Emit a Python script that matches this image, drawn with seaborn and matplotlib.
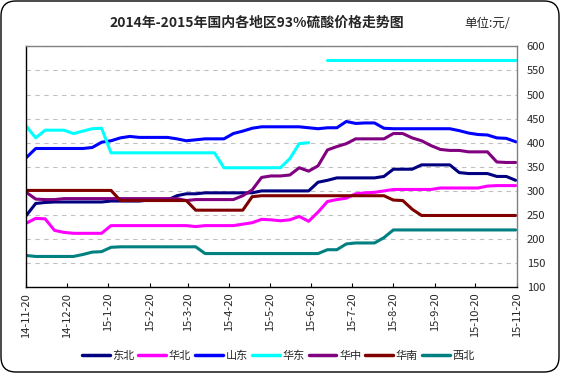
"""
2014-2015 domestic 93% sulfuric acid price trend by region.
"""

import matplotlib.pyplot as plt
import numpy as np
import pandas as pd
import seaborn as sns
from matplotlib.patches import FancyBboxPatch


TITLE = "2014年-2015年国内各地区93%硫酸价格走势图"
UNIT_TEXT = "单位:元/"

WEEK_DATES = pd.date_range("2014-11-20", periods=53, freq="7D")

TICK_DATES = pd.to_datetime([
    "2014-11-20", "2014-12-20", "2015-01-20", "2015-02-20", "2015-03-20",
    "2015-04-20", "2015-05-20", "2015-06-20", "2015-07-20", "2015-08-20",
    "2015-09-20", "2015-10-20", "2015-11-20",
])
TICK_LABELS = [
    "14-11-20", "14-12-20", "15-1-20", "15-2-20", "15-3-20", "15-4-20",
    "15-5-20", "15-6-20", "15-7-20", "15-8-20", "15-9-20", "15-10-20",
    "15-11-20",
]
Y_TICKS = [100, 150, 200, 250, 300, 350, 400, 450, 500, 550, 600]

REGIONS = ["东北", "华北", "山东", "华东", "华中", "华南", "西北"]
COLORS = ["#000080", "#FF00FF", "#0000FF", "#00FFFF",
          "#800080", "#800000", "#008080"]

NORTHEAST = [
    249, 274, 276, 277, 277, 277, 277, 277, 277, 279,
    279, 279, 279, 281, 281, 281, 290, 294, 294, 296,
    296, 296, 296, 296, 296, 300, 300, 300, 300, 300,
    300, 318, 322, 327, 327, 327, 327, 327, 330, 345,
    345, 345, 354, 354, 354, 354, 338, 336, 336, 336,
    330, 330, 322,
]
NORTH = [
    233, 243, 242, 218, 214, 212, 212, 212, 212, 228,
    228, 228, 228, 228, 228, 228, 228, 228, 226, 228,
    228, 228, 228, 231, 234, 241, 240, 238, 240, 247,
    237, 256, 278, 282, 285, 294, 296, 297, 300, 303,
    303, 303, 303, 303, 306, 306, 306, 306, 306, 310,
    311, 311, 311,
]
SHANDONG = [
    369, 388, 388, 388, 388, 388, 388, 390, 401, 404,
    410, 413, 411, 411, 411, 411, 408, 404, 406, 408,
    408, 408, 419, 424, 430, 433, 433, 433, 433, 433,
    431, 429, 431, 431, 444, 440, 441, 441, 430, 429,
    429, 429, 429, 429, 429, 429, 425, 420, 417, 416,
    410, 409, 402,
]
EAST = [
    434, 410, 426, 426, 426, 419, 424, 429, 430, 379,
    379, 379, 379, 379, 379, 379, 379, 379, 379, 379,
    379, 348, 348, 348, 348, 348, 348, 348, 367, 398,
    400, np.nan, 571, 571, 571, 571, 571, 571, 571, 571,
    571, 571, 571, 571, 571, 571, 571, 571, 571, 571,
    571, 571, 571,
]
CENTRAL = [
    297, 283, 282, 282, 284, 284, 284, 284, 284, 284,
    284, 284, 284, 284, 284, 284, 284, 280, 282, 282,
    282, 282, 282, 290, 302, 328, 331, 331, 333, 348,
    341, 352, 385, 392, 398, 408, 408, 408, 408, 419,
    419, 410, 404, 394, 386, 384, 384, 381, 381, 381,
    360, 359, 359,
]
SOUTH = [
    301, 301, 301, 301, 301, 301, 301, 301, 301, 301,
    280, 280, 280, 280, 280, 280, 280, 280, 260, 260,
    260, 260, 260, 260, 288, 290, 290, 290, 290, 290,
    290, 290, 290, 290, 290, 290, 290, 290, 290, 281,
    280, 262, 249, 249, 249, 249, 249, 249, 249, 249,
    249, 249, 249,
]
NORTHWEST = [
    166, 164, 164, 164, 164, 164, 168, 173, 174, 183,
    184, 184, 184, 184, 184, 184, 184, 184, 184, 170,
    170, 170, 170, 170, 170, 170, 170, 170, 170, 170,
    170, 170, 178, 178, 190, 192, 192, 192, 203, 219,
    219, 219, 219, 219, 219, 219, 219, 219, 219, 219,
    219, 219, 219,
]


def create_price_dataframe() -> pd.DataFrame:
    """
    Builds long-form data; a gap (NaN) starts a new line segment.
    """
    series = [NORTHEAST, NORTH, SHANDONG, EAST, CENTRAL, SOUTH, NORTHWEST]
    frames = []
    for region, values in zip(REGIONS, series):
        values = pd.Series(values, dtype=float)
        frames.append(pd.DataFrame({
            "日期": WEEK_DATES,
            "价格": values,
            "地区": region,
            "段": values.isna().cumsum(),
        }))
    return pd.concat(frames).dropna()


def draw_chart(price_df: pd.DataFrame) -> None:
    """
    Draws the line chart and saves it.
    """
    sns.set_style("white")
    plt.rcParams["font.family"] = ["Noto Sans CJK SC", "DejaVu Sans"]

    fig = plt.figure(figsize=(5.61, 3.74), dpi=100)
    ax = fig.add_axes([0.0469, 0.2318, 0.8747, 0.6444])

    sns.lineplot(
        data=price_df,
        x="日期",
        y="价格",
        hue="地区",
        units="段",
        estimator=None,
        hue_order=REGIONS,
        palette=dict(zip(REGIONS, COLORS)),
        linewidth=2.2,
        ax=ax,
    )

    ax.set_xlim(TICK_DATES[0], TICK_DATES[-1])
    ax.set_ylim(100, 600)
    ax.set_xticks(TICK_DATES)
    ax.set_xticklabels(TICK_LABELS, rotation=90, fontsize=8)
    ax.set_yticks(Y_TICKS)
    ax.set_yticklabels([str(v) for v in Y_TICKS], fontsize=8)
    ax.yaxis.tick_right()
    ax.tick_params(axis="y", length=0, pad=7)
    ax.tick_params(axis="x", direction="in", length=3, pad=4,
                   bottom=True, color="black")
    ax.set_xlabel("")
    ax.set_ylabel("")

    ax.yaxis.grid(True, linestyle=(0, (4, 4)), color="#C0C0C0",
                  linewidth=0.8)
    ax.set_axisbelow(True)
    ax.spines["left"].set_color("black")
    ax.spines["bottom"].set_color("black")
    ax.spines["top"].set_color("#808080")
    ax.spines["right"].set_color("#808080")
    for spine in ax.spines.values():
        spine.set_linewidth(1)

    sns.move_legend(
        ax,
        loc="center",
        bbox_to_anchor=(0.496, 0.048),
        bbox_transform=fig.transFigure,
        ncol=7,
        frameon=False,
        title=None,
        fontsize=8,
        handlelength=2.5,
        handletextpad=0.25,
        columnspacing=0.35,
    )
    for handle in ax.get_legend().legend_handles:
        handle.set_linewidth(2.5)

    fig.text(0.458, 0.94, TITLE, ha="center", va="center",
             fontsize=10, fontweight="bold")
    fig.text(0.868, 0.936, UNIT_TEXT, ha="center", va="center", fontsize=9)

    border = FancyBboxPatch(
        (0.01, 0.02), 5.58, 3.71,
        boxstyle="round,pad=0,rounding_size=0.15",
        transform=fig.dpi_scale_trans,
        facecolor="none",
        edgecolor="black",
        linewidth=1,
    )
    fig.patches.append(border)

    fig.savefig("out.png", dpi=100)
    plt.close(fig)


def main() -> None:
    """
    Main execution function.
    """
    price_df = create_price_dataframe()
    draw_chart(price_df)


if __name__ == "__main__":
    main()
